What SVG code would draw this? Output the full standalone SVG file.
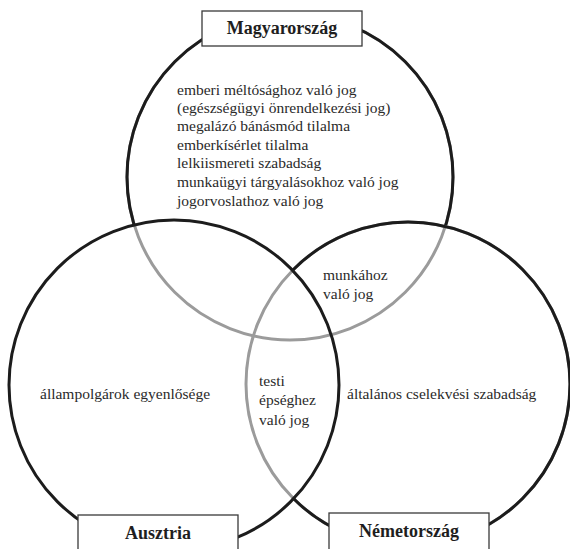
<svg xmlns="http://www.w3.org/2000/svg" width="570" height="549" viewBox="0 0 570 549">
<style>
  .ring { fill: none; stroke-width: 3; }
  .gray { stroke: #9b9b9b; }
  .blk { stroke: #1c1c1c; }
  .box { fill: #ffffff; stroke: #3a3a3a; stroke-width: 1.3; }
  .lbl { font-family: "Liberation Serif", "DejaVu Serif", serif; font-weight: bold; font-size: 18px; fill: #1e1e1e; text-anchor: middle; }
  .txt { font-family: "Liberation Serif", "DejaVu Serif", serif; font-size: 15.5px; fill: #2a2a2a; }
</style>
<defs>
  <mask id="mTop" maskUnits="userSpaceOnUse" x="0" y="0" width="570" height="549">
    <rect x="0" y="0" width="570" height="549" fill="#fff"/>
    <circle cx="174" cy="385" r="165" fill="#000"/>
    <circle cx="408" cy="384" r="162" fill="#000"/>
  </mask>
  <mask id="mRight" maskUnits="userSpaceOnUse" x="0" y="0" width="570" height="549">
    <rect x="0" y="0" width="570" height="549" fill="#fff"/>
    <circle cx="174" cy="385" r="165" fill="#000"/>
  </mask>
</defs>

<g id="set-magyarorszag">
  <circle class="ring gray" cx="290" cy="177" r="163"/>
  <circle class="ring blk" cx="290" cy="177" r="163" mask="url(#mTop)"/>
</g>
<g id="set-nemetorszag">
  <circle class="ring gray" cx="408" cy="384" r="162"/>
  <circle class="ring blk" cx="408" cy="384" r="162" mask="url(#mRight)"/>
</g>
<g id="set-ausztria">
  <circle class="ring blk" cx="174" cy="385" r="165"/>
</g>

<g id="label-magyarorszag">
  <rect class="box" x="202" y="11" width="160" height="35"/>
  <text class="lbl" x="282" y="34">Magyarország</text>
</g>
<g id="label-ausztria">
  <rect class="box" x="78" y="515" width="160" height="40"/>
  <text class="lbl" x="158" y="539">Ausztria</text>
</g>
<g id="label-nemetorszag">
  <rect class="box" x="329" y="513" width="160" height="42"/>
  <text class="lbl" x="409" y="537">Németország</text>
</g>

<g id="region-magyarorszag">
  <text class="txt" x="177" y="95">emberi méltósághoz való jog</text>
  <text class="txt" x="177" y="113">(egészségügyi önrendelkezési jog)</text>
  <text class="txt" x="177" y="131">megalázó bánásmód tilalma</text>
  <text class="txt" x="177" y="150">emberkísérlet tilalma</text>
  <text class="txt" x="177" y="168">lelkiismereti szabadság</text>
  <text class="txt" x="177" y="187">munkaügyi tárgyalásokhoz való jog</text>
  <text class="txt" x="177" y="206">jogorvoslathoz való jog</text>
</g>
<g id="region-hu-de">
  <text class="txt" x="323" y="280">munkához</text>
  <text class="txt" x="323" y="299">való jog</text>
</g>
<g id="region-ausztria">
  <text class="txt" x="40" y="399">állampolgárok egyenlősége</text>
</g>
<g id="region-at-de">
  <text class="txt" x="259" y="386">testi</text>
  <text class="txt" x="259" y="405">épséghez</text>
  <text class="txt" x="259" y="425">való jog</text>
</g>
<g id="region-nemetorszag">
  <text class="txt" x="347" y="399">általános cselekvési szabadság</text>
</g>
</svg>
